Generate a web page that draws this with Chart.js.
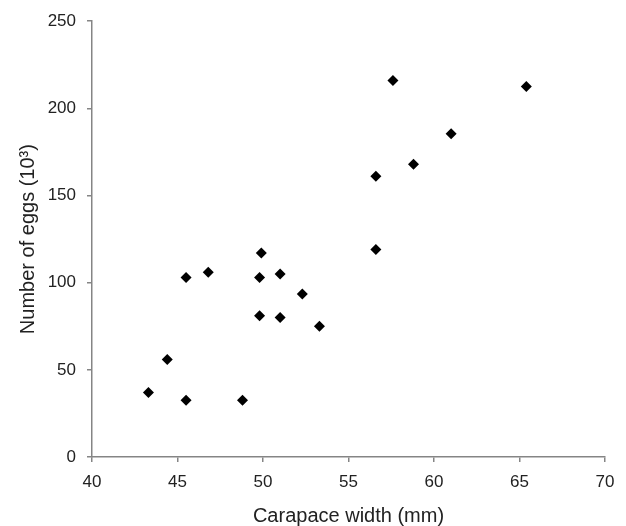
<!DOCTYPE html>
<html>
<head>
<meta charset="utf-8">
<script src="https://cdn.jsdelivr.net/npm/chart.js@4"></script>
<style>
html,body{margin:0;padding:0;background:#fff}
#wrap{width:626px;height:526px}
</style>
</head>
<body>
<div id="wrap"><canvas id="chart" width="626" height="526"></canvas></div>
<script>
// carapace width (mm) and eggs (10^3)
const widths = [43.3, 44.4, 45.5, 45.5, 46.8, 48.8, 49.8, 49.8, 49.9, 51.0, 51.0, 52.3, 53.3, 56.6, 56.6, 57.6, 58.8, 61.0, 65.4]
const eggs = [37, 56, 103, 32.5, 106, 32.5, 103, 81, 117, 105, 80, 93.5, 75, 161, 119, 216, 168, 185.5, 212.5]
const xTicks = [40, 45, 50, 55, 60, 65, 70]
const yTicks = [0, 50, 100, 150, 200, 250]

const points = widths.map((w,i)=>({x:w, y:eggs[i]}))

const axisGrey = "#858585"
const fam = "'Liberation Sans', Arial, sans-serif"
const tickFont = {family:fam, size:17}
const titleFont = {family:fam, size:20}

new Chart(document.getElementById("chart"), {
type:"scatter",
data:{
datasets:[{
data:points,
pointStyle:"rectRot",
pointRadius:5.5,
pointHoverRadius:5.5,
backgroundColor:"#000",
borderColor:"#000",
borderWidth:0
}]
},
options:{
responsive:false,
animation:false,
events:[],
layout:{padding:{top:21,right:21,left:0,bottom:0}},
plugins:{legend:{display:false},tooltip:{enabled:false}},
scales:{
x:{
type:"linear",
min:xTicks[0],
max:xTicks[xTicks.length-1],
afterBuildTicks:s=>{s.ticks = xTicks.map(v=>({value:v}))},
afterFit:s=>{s.height = 69},
border:{color:axisGrey,width:1.5},
grid:{drawOnChartArea:false,color:axisGrey,tickLength:5,lineWidth:1.5},
ticks:{color:"#222",font:tickFont,padding:10,maxRotation:0},
title:{display:true,text:"Carapace width (mm)",color:"#222",font:titleFont,padding:{top:0,bottom:-2}}
},
y:{
min:yTicks[0],
max:yTicks[yTicks.length-1],
afterBuildTicks:s=>{s.ticks = yTicks.map(v=>({value:v}))},
afterFit:s=>{s.width = 92},
border:{color:axisGrey,width:1.5},
grid:{drawOnChartArea:false,color:axisGrey,tickLength:5,lineWidth:1.5},
ticks:{color:"#222",font:tickFont,padding:11},
title:{display:true,text:"Number of eggs (10³)",color:"#222",font:titleFont,padding:{top:16,bottom:0}}
}
}
}
})
</script>
</body>
</html>
